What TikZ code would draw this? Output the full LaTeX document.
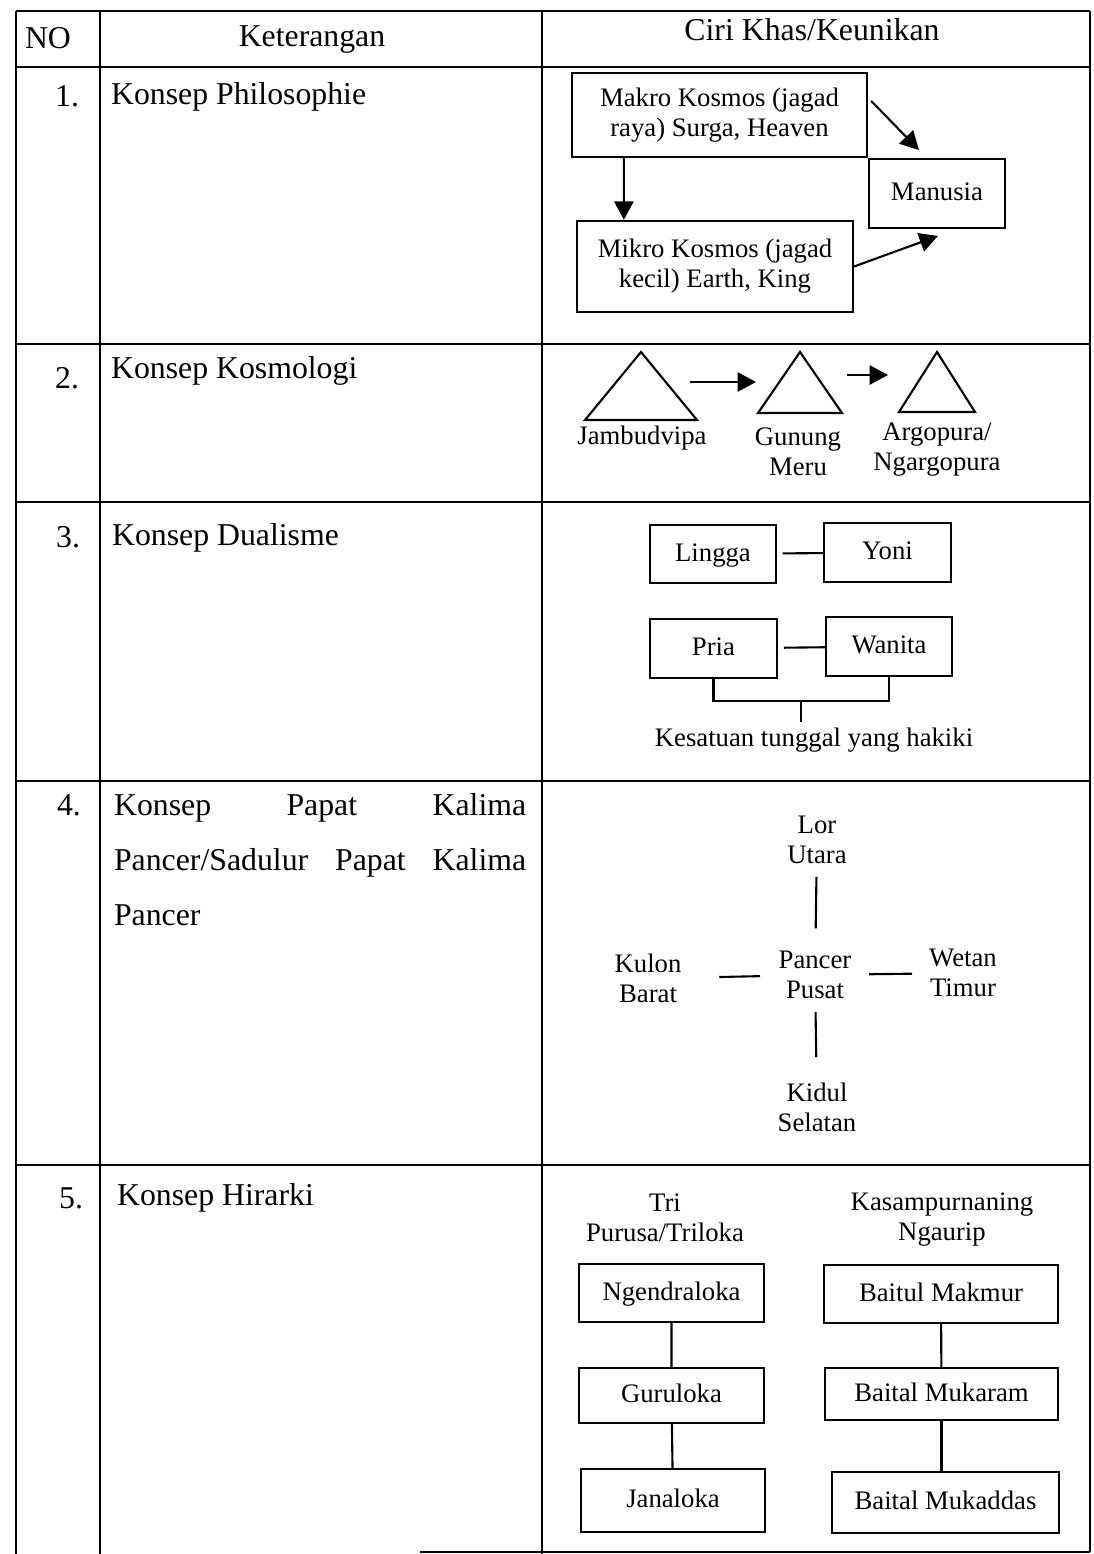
\documentclass[tikz,border=0pt]{standalone}
\usepackage{fontspec}
\setmainfont{Liberation Serif}
\usetikzlibrary{arrows.meta,positioning,calc}
\newcommand{\bigfont}{\fontsize{11.3}{13.5}\selectfont}
\newcommand{\smfont}{\fontsize{9.5}{10.7}\selectfont}

\begin{document}
\begin{tikzpicture}[x=0.0125cm,y=-0.0125cm,line width=0.75pt,>={Triangle[length=2.3mm,width=2.4mm]},
txt/.style={inner sep=0pt,font=\bigfont},num/.style={txt,anchor=base east},ket/.style={txt,anchor=base west},
box/.style={draw,inner sep=0pt,align=center,font=\smfont},sbox/.style={box,text height=0.72em,text depth=0.22em},
lbl/.style={inner sep=0pt,align=center,font=\smfont,anchor=north}]
\useasboundingbox (0,0) rectangle (1094,1554);
% table frame
\foreach \y in {11,67,344,502,781,1165} \draw (16,\y) -- (1090,\y);
\draw (16,11) -- (16,1554) (100,11) -- (100,1554) (542,11) -- (542,1554) (1090,11) -- (1090,1552) (420,1552) -- (1090,1552);
\node[txt,anchor=base] (no) at (48,48) {NO};
\node[txt,anchor=base] (ketr) at (312,46) {Keterangan};
\node[txt,anchor=base] (ciri) at (812,40) {Ciri Khas/Keunikan};
% row labels
\node[num] (n1) at (80,106) {1.};
\node[ket] (k1) at (110,104) {Konsep Philosophie};
\node[num] (n2) at (80,388) {2.};
\node[ket] (k2) at (110,378) {Konsep Kosmologi};
\node[num] (n3) at (81,547) {3.};
\node[ket] (k3) at (111,545) {Konsep Dualisme};
\node[num] (n4) at (82,815) {4.};
\node[txt,anchor=base west,text width=5.15cm,align=left,font=\fontsize{11.3}{19.6}\selectfont] (k4) at (113,815) {Konsep\hfill Papat\hfill Kalima\\Pancer/Sadulur\hfill Papat\hfill Kalima\\Pancer};
\node[num] (n5) at (84,1208) {5.};
\node[ket] (k5) at (116,1205) {Konsep Hirarki};
% 1. philosophie
\node[box,minimum width=3.69cm,minimum height=1.05cm] (makro) at (719.5,115) {Makro Kosmos (jagad\\raya) Surga, Heaven};
\node[sbox,minimum width=1.7cm,minimum height=0.86cm] (manusia) at (937,193.5) {Manusia};
\node[box,minimum width=3.45cm,minimum height=1.14cm] (mikro) at (715,266.5) {Mikro Kosmos (jagad\\kecil) Earth, King};
\draw[->] ($(makro.south west)+(53,0)$) -- ($(mikro.north west)+(48,0)$);
\draw[->] ($(makro.north east)+(3,29)$) -- ($(manusia.north west)+(51,-8)$);
\draw[->] (mikro.east) -- ($(manusia.south west)+(70,7)$);
% 2. kosmologi
\coordinate (jt) at (641,352);
\coordinate (gt) at (800,352);
\coordinate (argt) at (937,352);
\draw (jt) -- ++(56,68) -- ++(-112,0) -- cycle;
\draw (gt) -- ++(42,61) -- ++(-84,0) -- cycle;
\draw (argt) -- ++(38,60) -- ++(-76,0) -- cycle;
\node[lbl] (jambu) at (642,425) {Jambudvipa};
\node[lbl] (meru) at (798,427) {Gunung\\Meru};
\node[lbl] (argo) at (937,422) {Argopura/\\Ngargopura};
\draw[->] ($(jt)+(49,30)$) -- ($(gt)+(-44,30)$);
\draw[->] ($(gt)+(47,23)$) -- ($(argt)+(-49,23)$);
% 3. dualisme
\node[sbox,minimum width=1.575cm,minimum height=0.725cm] (lingga) at (713,554) {Lingga};
\node[sbox,minimum width=1.59cm,minimum height=0.74cm] (yoni) at (887.5,552.5) {Yoni};
\node[sbox,minimum width=1.59cm,minimum height=0.74cm] (pria) at (713.5,648.5) {Pria};
\node[sbox,minimum width=1.575cm,minimum height=0.74cm] (wanita) at (889,646.5) {Wanita};
\draw[shorten <=0.7mm] (lingga) -- (yoni);
\draw[shorten <=0.7mm] (pria) -- (wanita);
\draw (pria.south) -- ++(0,22) coordinate (brl) -| (wanita.south);
\node[lbl] (kes) at (814,727) {Kesatuan tunggal yang hakiki};
\coordinate (brm) at ($(brl)!0.5!(brl -| wanita.south)$);
\draw[shorten >=0.6mm] (brm) -- (brm |- kes.north);
% 4. papat kalima pancer
\node[lbl] (lor) at (817,815) {Lor\\Utara};
\node[lbl] (kulon) at (648,953) {Kulon\\Barat};
\node[lbl] (pancer) at (815,950) {Pancer\\Pusat};
\node[lbl] (wetan) at (963,948) {Wetan\\Timur};
\node[lbl] (kidul) at (817,1082) {Kidul\\Selatan};
\draw[shorten <=1.5mm,shorten >=2.7mm] (lor) -- (pancer);
\draw[shorten <=4.6mm,shorten >=2.2mm] (kulon) -- (pancer);
\draw[shorten <=2.1mm,shorten >=2mm] (pancer) -- (wetan);
\draw[shorten <=1.5mm,shorten >=3.1mm] (pancer) -- (kidul);
% 5. hirarki
\node[lbl] (tri) at (665,1193) {Tri\\Purusa/Triloka};
\node[lbl] (kasam) at (942,1192) {Kasampurnaning\\Ngaurip};
\node[sbox,minimum width=2.31cm,minimum height=0.725cm] (ngendra) at (671.5,1293) {Ngendraloka};
\node[sbox,minimum width=2.31cm,minimum height=0.69cm] (guru) at (671.5,1395.5) {Guruloka};
\node[sbox,minimum width=2.3cm,minimum height=0.79cm] (jana) at (673,1500.5) {Janaloka};
\node[sbox,minimum width=2.925cm,minimum height=0.725cm] (makmur) at (941,1294) {Baitul Makmur};
\node[sbox,minimum width=2.91cm,minimum height=0.65cm] (mukaram) at (941.5,1394) {Baital Mukaram};
\node[sbox,minimum width=2.84cm,minimum height=0.76cm] (mukaddas) at (945.5,1502.5) {Baital Mukaddas};
\draw (ngendra) -- (guru) (guru) -- (jana) (makmur) -- (mukaram);
\draw (mukaram.south) -- (mukaram.south |- mukaddas.north);
\end{tikzpicture}
\end{document}
